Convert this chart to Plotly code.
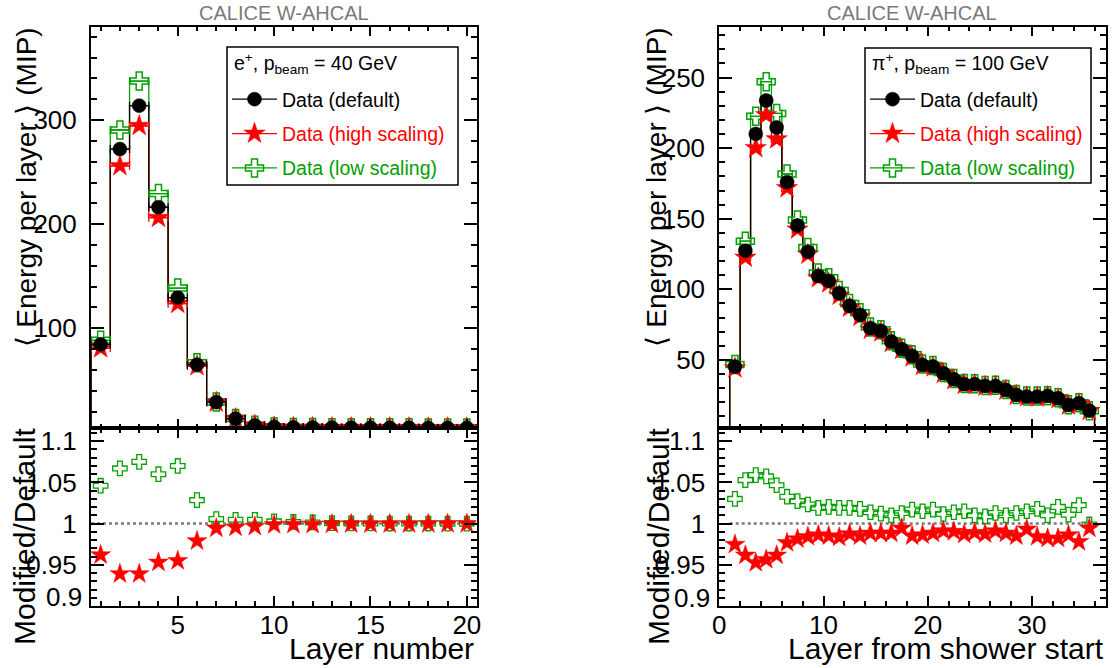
import plotly.graph_objects as go

# ---------------- data ----------------
# Left: e+ 40 GeV, layer number 1..20
layers_e = list(range(1, 21))
e_default = [84.6, 272.1, 313.8, 216.3, 129.5, 65.1, 29.1, 13.2, 6.8, 5.2,
             4.8, 4.7, 4.6, 4.6, 4.5, 4.5, 4.5, 4.4, 4.4, 4.4]
e_high = [81.0, 256.0, 294.5, 206.2, 123.7, 63.8, 28.9, 13.15, 6.78, 5.19,
          4.8, 4.7, 4.6, 4.6, 4.5, 4.5, 4.5, 4.4, 4.4, 4.4]
e_low = [88.5, 290.4, 337.4, 229.4, 138.6, 67.0, 29.3, 13.3, 6.83, 5.21,
         4.81, 4.71, 4.6, 4.6, 4.5, 4.5, 4.5, 4.4, 4.4, 4.4]
e_ratio_high = [0.962, 0.939, 0.939, 0.953, 0.955, 0.979, 0.9945, 0.9957, 0.9965, 0.9985,
                0.999, 0.999, 0.9993, 0.9995, 0.9995, 0.9996, 0.9996, 0.9997, 0.9997, 0.9998]
e_ratio_low = [1.046, 1.067, 1.075, 1.060, 1.070, 1.0285, 1.0055, 1.0047, 1.0047, 1.0027,
               1.002, 1.0014, 1.0006, 1.0003, 1.0002, 1.0001, 1.0001, 1.0001, 1.0, 1.0]

# Right: pi+ 100 GeV, layer from shower start (bin centres 1.5 .. 35.5)
layers_pi = [i + 0.5 for i in range(1, 36)]
pi_default = [45.3, 127.4, 210.1, 233.7, 214.6, 175.9, 145.2, 126.7, 109.5, 106.0,
              97.2, 88.3, 81.9, 72.4, 70.5, 63.0, 57.6, 52.8, 46.5, 45.3,
              40.6, 36.3, 32.8, 32.8, 31.6, 31.6, 28.7, 25.2, 24.0, 24.0,
              24.5, 22.8, 18.1, 19.3, 14.1]
pi_high = [44.2, 122.5, 200.2, 223.5, 206.4, 171.8, 142.5, 124.7, 108.0, 104.4,
           95.6, 87.2, 80.7, 71.5, 69.7, 62.2, 57.3, 52.0, 45.9, 44.8,
           40.2, 35.9, 32.4, 32.4, 31.2, 31.3, 28.4, 24.8, 23.8, 23.6,
           24.1, 22.4, 17.8, 18.9, 14.0]
pi_low = [46.7, 134.1, 222.5, 247.1, 224.6, 181.7, 149.1, 129.6, 111.6, 108.2,
          99.1, 90.0, 83.4, 73.4, 71.4, 63.6, 58.3, 53.7, 47.2, 46.1,
          41.1, 36.8, 33.3, 33.1, 31.9, 32.0, 29.0, 25.5, 24.4, 24.4,
          24.7, 23.3, 18.3, 19.7, 14.1]
pi_ratio_high = [0.9747, 0.9616, 0.9526, 0.9563, 0.9616, 0.9768, 0.9813, 0.9842, 0.9862, 0.985,
                 0.9834, 0.9875, 0.985, 0.9883, 0.9883, 0.9883, 0.9945, 0.985, 0.9862, 0.9883,
                 0.9912, 0.9903, 0.9871, 0.9891, 0.9875, 0.9912, 0.9883, 0.985, 0.9932, 0.9842,
                 0.9821, 0.9821, 0.9862, 0.978, 0.9945]
pi_ratio_low = [1.030, 1.0528, 1.0589, 1.0573, 1.0466, 1.0327, 1.0273, 1.0232, 1.0191, 1.0203,
                1.0191, 1.0191, 1.0179, 1.0138, 1.0121, 1.0101, 1.0129, 1.017, 1.015, 1.017,
                1.0117, 1.0138, 1.015, 1.0101, 1.0088, 1.0129, 1.0101, 1.0129, 1.015, 1.0179,
                1.0101, 1.0203, 1.0109, 1.0224, 0.999]

series_names = ["Data (default)", "Data (high scaling)", "Data (low scaling)"]
legend_headers = ["e<sup>+</sup>, p<sub>beam</sub> = 40 GeV", "π<sup>+</sup>, p<sub>beam</sub> = 100 GeV"]
ratio_ticks = [0.95, 1.0, 1.05, 1.1]
ratio_ticktext = ["0.95", "1", "1.05", "1.1"]
ratio_low_label = "0.9"

# ---------------- style ----------------
W, H = 1115, 668
FONT = "Liberation Sans, Arial, Helvetica, sans-serif"
BLACK = "#000000"
RED = "#ff0000"
GREEN = "#00a000"
GREY = "#7a7a7a"

def px_x(p):
    return p / W

def px_y(p):
    return 1 - p / H

LX = [px_x(91), px_x(476.5)]
RX = [px_x(719.3), px_x(1106)]
TOPY = [px_y(428.3), px_y(26.7)]
BOTY = [px_y(606), px_y(428.3)]

fig = go.Figure()


def step_trace(centers, vals, color, xa, ya):
    edges = [c - 0.5 for c in centers] + [centers[-1] + 0.5]
    xs = [edges[0]] + edges + [edges[-1]]
    ys = [0] + list(vals) + [vals[-1], 0]
    return go.Scatter(x=xs, y=ys, mode="lines", line=dict(color=color, width=1.3, shape="hv"),
                      xaxis=xa, yaxis=ya, showlegend=False, hoverinfo="skip")


def marker_trace(centers, vals, color, symbol, size, xa, ya, xerr=True, lw=1.5):
    t = go.Scatter(x=centers, y=vals, mode="markers",
                   marker=dict(color=color, symbol=symbol, size=size,
                               line=dict(color=color, width=lw)),
                   xaxis=xa, yaxis=ya, showlegend=False, hoverinfo="skip")
    if xerr:
        t.update(error_x=dict(type="constant", value=0.5, color=color, thickness=1.3, width=4))
    return t


panels = [
    (layers_e, e_default, e_high, e_low, e_ratio_high, e_ratio_low, "x", "y", "x2", "y2", "legend"),
    (layers_pi, pi_default, pi_high, pi_low, pi_ratio_high, pi_ratio_low, "x3", "y3", "x4", "y4", "legend2"),
]

for (cx, d, hi, lo, rh, rl, xa, ya, xb, yb, leg) in panels:
    fig.add_trace(step_trace(cx, lo, GREEN, xa, ya))
    fig.add_trace(step_trace(cx, hi, RED, xa, ya))
    fig.add_trace(step_trace(cx, d, BLACK, xa, ya))
    fig.add_trace(marker_trace(cx, lo, GREEN, "cross-open", 15, xa, ya))
    fig.add_trace(marker_trace(cx, hi, RED, "star", 16, xa, ya, lw=0.5))
    fig.add_trace(marker_trace(cx, d, BLACK, "circle", 14, xa, ya, lw=0.5))
    fig.add_trace(marker_trace(cx, rl, GREEN, "cross-open", 12, xb, yb, xerr=False, lw=1.3))
    fig.add_trace(marker_trace(cx, rh, RED, "star", 15, xb, yb, xerr=False, lw=0.5))
    for name, col, sym, sz, tc in [
        (series_names[0], BLACK, "circle", 14, BLACK),
        (series_names[1], RED, "star", 16, RED),
        (series_names[2], GREEN, "cross-open", 15, GREEN),
    ]:
        fig.add_trace(go.Scatter(
            x=[None], y=[None], mode="lines+markers",
            name=f"<span style='color:{tc}'>{name}</span>",
            line=dict(color=col, width=1.3),
            marker=dict(color=col, symbol=sym, size=sz, line=dict(color=col, width=1.5 if sym == "cross-open" else 0.5)),
            xaxis=xa, yaxis=ya, legend=leg, legendgroup=leg + name, showlegend=True))

# ---------------- axes ----------------
def axis(domain, rng, dtick, minor_dtick, ticklen, anchor, showlabels=True, tickvals=None, ticktext=None, standoff=4):
    a = dict(domain=domain, range=rng, anchor=anchor, showline=True, linecolor=BLACK, linewidth=2,
             mirror="allticks", ticks="inside", ticklen=ticklen, tickwidth=1.5, tickcolor=BLACK,
             showgrid=False, zeroline=False, showticklabels=showlabels, automargin=False,
             tickfont=dict(family=FONT, size=26, color=BLACK),
             minor=dict(ticks="inside", ticklen=max(4, ticklen // 2), tickwidth=1.5, tickcolor=BLACK,
                        dtick=minor_dtick, tick0=0, showgrid=False),
             ticklabelstandoff=standoff)
    if tickvals is not None:
        a.update(tickmode="array", tickvals=tickvals, ticktext=ticktext)
    else:
        a.update(dtick=dtick, tick0=0)
    return a

fig.update_layout(
    width=W, height=H,
    margin=dict(l=0, r=0, t=0, b=0, autoexpand=False),
    paper_bgcolor="white", plot_bgcolor="white",
    font=dict(family=FONT, color=BLACK),
    xaxis=axis(LX, [0.5, 20.5], 5, 1, 9, "y", showlabels=False),
    yaxis=axis(TOPY, [4, 389.6], 100, 20, 13, "x", standoff=7),
    xaxis2=axis(LX, [0.5, 20.5], 5, 1, 10, "y2", standoff=-5),
    yaxis2=axis(BOTY, [0.9, 1.1157], None, 0.01, 13, "x2", tickvals=ratio_ticks, ticktext=ratio_ticktext, standoff=7),
    xaxis3=axis(RX, [0, 37.1], 10, 2, 9, "y3", showlabels=False),
    yaxis3=axis(TOPY, [1.6, 286], 50, 10, 13, "x3", standoff=7),
    xaxis4=axis(RX, [0, 37.1], 10, 2, 10, "y4", standoff=-5),
    yaxis4=axis(BOTY, [0.9, 1.1157], None, 0.01, 13, "x4", tickvals=ratio_ticks, ticktext=ratio_ticktext, standoff=7),
)
# major tick at 0.9 without the default label (label placed separately, ROOT-style lifted)
for ax in ("yaxis2", "yaxis4"):
    fig.layout[ax].tickvals = [0.9] + ratio_ticks
    fig.layout[ax].ticktext = [""] + ratio_ticktext

# ---------------- legends ----------------
leg_boxes = [(227, 47, 458, 185), (865, 48, 1091, 183)]
leg_common = dict(xanchor="left", yanchor="top", bgcolor="rgba(0,0,0,0)", borderwidth=0,
                  font=dict(family=FONT, size=19.5, color=BLACK), tracegroupgap=6, itemwidth=45)
fig.update_layout(
    legend=dict(leg_common, x=px_x(227), y=px_y(80)),
    legend2=dict(leg_common, x=px_x(865), y=px_y(80)),
)
for (x0, y0, x1, y1), head in zip(leg_boxes, legend_headers):
    fig.add_shape(type="rect", xref="paper", yref="paper", x0=px_x(x0), x1=px_x(x1), y0=px_y(y1), y1=px_y(y0),
                  line=dict(color=BLACK, width=1.5), fillcolor="white", layer="above")
    fig.add_annotation(text=head, x=px_x(x0 + 5), y=px_y(64), xref="paper", yref="paper",
                       xanchor="left", yanchor="middle", showarrow=False,
                       font=dict(family=FONT, size=19.5, color=BLACK))

fig.add_shape(type="line", xref="x2", yref="y2", x0=0.5, x1=20.5, y0=1, y1=1,
              line=dict(color=GREY, width=2.5, dash="dot"), layer="below")
fig.add_shape(type="line", xref="x4", yref="y4", x0=1, x1=36, y0=1, y1=1,
              line=dict(color=GREY, width=2.5, dash="dot"), layer="below")

# ---------------- text ----------------
def ann(text, x, y, xanchor, yanchor, size, color=BLACK, angle=0):
    fig.add_annotation(text=text, x=px_x(x), y=px_y(y), xref="paper", yref="paper",
                       xanchor=xanchor, yanchor=yanchor, showarrow=False, textangle=angle,
                       font=dict(family=FONT, size=size, color=color))

ann("CALICE W-AHCAL", 284, 13, "center", "middle", 20, GREY)
ann("CALICE W-AHCAL", 912, 13, "center", "middle", 20, GREY)
ytitle = "⟨ Energy per layer ⟩ (MIP)"
ann(ytitle, 26, 26, "center", "top", 28, angle=-90)
ann(ytitle, 656, 26, "center", "top", 28, angle=-90)
ann("Modified/Default", 24, 537, "center", "middle", 30, angle=-90)
ann("Modified/Default", 658, 537, "center", "middle", 30, angle=-90)
ann("Layer number", 476, 648, "right", "middle", 30)
ann("Layer from shower start", 1106, 648, "right", "middle", 30)
ann(ratio_low_label, 84, 597, "right", "middle", 26)
ann(ratio_low_label, 712, 598, "right", "middle", 26)

fig.write_html("out.html", config={"displayModeBar": False},
               post_script="document.body.style.margin='0';document.body.style.overflow='hidden';")
